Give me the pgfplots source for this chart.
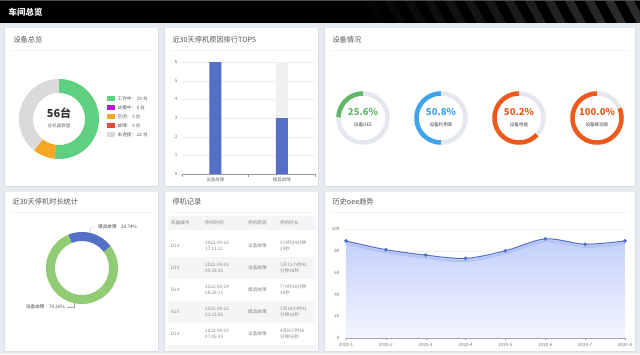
\documentclass[border=0pt]{standalone}
\usepackage{fontspec}
\setmainfont{Noto Sans CJK SC}
\usepackage{pgfplots}
\pgfplotsset{compat=1.18}
\definecolor{bg}{HTML}{E6EAF1}
\definecolor{ttl}{HTML}{555555}
\definecolor{cgreen}{HTML}{5FD07F}
\definecolor{cpurple}{HTML}{B21FD2}
\definecolor{corange}{HTML}{F5A623}
\definecolor{cred}{HTML}{E8453C}
\definecolor{cgrey}{HTML}{DADADA}
\definecolor{cbar}{HTML}{5470C6}
\definecolor{cpgreen}{HTML}{91CC75}
\definecolor{gtrack}{HTML}{E4E8EE}
\definecolor{ggreen}{HTML}{62B86A}
\definecolor{gblue}{HTML}{3FA3EC}
\definecolor{gorange}{HTML}{EE5A1C}
\definecolor{cline}{HTML}{5470C6}
\definecolor{cshadow}{HTML}{AFC0F5}
\definecolor{ftop}{HTML}{C3CFFA}
\definecolor{fbot}{HTML}{F3F6FF}
\definecolor{tbl}{HTML}{F4F5F7}
\definecolor{txt}{HTML}{888888}
\newcommand\ttlfont{\fontsize{7.2}{8}\selectfont}
\newcommand\smallfont{\fontsize{4.6}{5.6}\selectfont}
\pgfplotsset{ring/.style={variable=\t,line width=#1}}
\begin{document}
\begin{tikzpicture}[x=1pt,y=1pt]
\useasboundingbox (0,0) rectangle (640,354);
\fill[bg] (0,0) rectangle (640,354);
% header
\fill[black] (0,331) rectangle (640,354);
\fill[black!70] (0,353.2) rectangle (640,354);
\foreach \i in {0,...,13}{
  \pgfmathsetmacro\op{0.02+0.012*\i}
  \fill[white,opacity=\op] (365+\i*20,353) -- ++(9,0) -- ++(12,-22) -- ++(-9,0) -- cycle;
}
\node[anchor=west,text=white,font=\fontsize{8.5}{9}\selectfont\bfseries] at (5,342) {车间总览};
% panels
\foreach \a/\b/\c/\d in {5/168/158/326, 165/168/318/326, 325/168/635/326, 5/3/158/162, 165/3/318/162, 325/3/635/162}{
  \fill[black,opacity=0.05] (\a-0.6,\b-0.8) rectangle (\c+0.6,\d+0.2);
  \fill[white] (\a,\b) rectangle (\c,\d);
}
% separators
\foreach \a/\c/\y in {5/158/304, 165/318/304, 325/635/304, 5/158/142, 165/318/142, 325/635/142}{
  \draw[black!5,line width=0.4pt] (\a+6,\y) -- (\c-6,\y);
}
% titles
\node[anchor=west,text=ttl,font=\ttlfont] at (10,314) {设备总览};
\node[anchor=west,text=ttl,font=\ttlfont] at (169,314) {近30天停机原因排行TOP5};
\node[anchor=west,text=ttl,font=\ttlfont] at (329,314) {设备情况};
\node[anchor=west,text=ttl,font=\ttlfont] at (9,152) {近30天停机时长统计};
\node[anchor=west,text=ttl,font=\ttlfont] at (169,152) {停机记录};
\node[anchor=west,text=ttl,font=\ttlfont] at (329,152) {历史oee趋势};

% ---------- canvas axis for donuts and gauges
\pgfmathsetmacro\aA{90-29/56*360}
\pgfmathsetmacro\aB{\aA-5/56*360}
\pgfmathsetmacro\gA{90+360*0.245}
\pgfmathsetmacro\gB{90+360*0.50}
\pgfmathsetmacro\gC{90+360*0.63}
\pgfmathsetmacro\gD{90+360*0.815}
\pgfmathsetmacro\bs{112-20.74/100*360}
\begin{axis}[at={(0pt,0pt)},anchor=south west,scale only axis,width=640pt,height=354pt,
  xmin=0,xmax=640,ymin=0,ymax=354,hide axis,clip=false,enlargelimits=false]
% donut 1: 29, 0, 5, 0, 22 of 56 ; centre (59,235), mid radius 33
\addplot[domain=\aA:90,samples=70,ring=14pt,color=cgreen] ({59+33*cos(\t)},{235+33*sin(\t)});
\addplot[domain=\aB:\aA,samples=20,ring=14pt,color=corange] ({59+33*cos(\t)},{235+33*sin(\t)});
\addplot[domain=-270:\aB,samples=60,ring=14pt,color=cgrey] ({59+33*cos(\t)},{235+33*sin(\t)});
% gauges: centres y=236, mid radius 24.5
\addplot[domain=0:360,samples=90,ring=4.5pt,color=gtrack] ({363+24.5*cos(\t)},{236+24.5*sin(\t)});
\addplot[domain=90:\gA,samples=40,ring=4.5pt,color=ggreen] ({363+24.5*cos(\t)},{236+24.5*sin(\t)});
\addplot[domain=0:360,samples=90,ring=4.5pt,color=gtrack] ({441+24.5*cos(\t)},{236+24.5*sin(\t)});
\addplot[domain=90:\gB,samples=60,ring=4.5pt,color=gblue] ({441+24.5*cos(\t)},{236+24.5*sin(\t)});
\addplot[domain=0:360,samples=90,ring=4.5pt,color=gtrack] ({519+24.5*cos(\t)},{236+24.5*sin(\t)});
\addplot[domain=90:\gC,samples=70,ring=4.5pt,color=gorange] ({519+24.5*cos(\t)},{236+24.5*sin(\t)});
\addplot[domain=0:360,samples=90,ring=4.5pt,color=gtrack] ({597+24.5*cos(\t)},{236+24.5*sin(\t)});
\addplot[domain=90:\gD,samples=80,ring=4.5pt,color=gorange] ({597+24.5*cos(\t)},{236+24.5*sin(\t)});
% donut 2: 79.26 / 20.74 ; centre (82,86) mid radius 31.5
\addplot[domain=-248:\bs,samples=90,ring=9pt,color=cpgreen] ({82+31.5*cos(\t)},{86+31.5*sin(\t)});
\addplot[domain=\bs:112,samples=30,ring=9pt,color=cbar] ({82+31.5*cos(\t)},{86+31.5*sin(\t)});
\end{axis}

% donut 1 text and legend
\node[font=\fontsize{11}{12}\selectfont\bfseries,text=black!80] at (59,241) {56台};
\node[font=\smallfont,text=black!55] at (59,228.5) {总机器数量};
\foreach \yy/\col/\lab in {255/cgreen/{工作中：\,29 台}, 246/cpurple/{试模中：\,0 台}, 237/corange/{空闲：\,5 台}, 228/cred/{故障：\,0 台}, 219/cgrey/{未连接：\,22 台}}{
  \fill[\col] (107,\yy-2.5) rectangle (115,\yy+2.5);
  \node[anchor=west,font=\smallfont,text=black!65,inner sep=0pt] at (117.5,\yy) {\lab};
}
% gauge texts
\foreach \cx/\val/\lab/\col in {363/25.6\%/设备OEE/ggreen, 441/50.8\%/设备利用率/gblue, 519/50.2\%/设备性能/gorange, 597/100.0\%/设备稼动率/gorange}{
  \node[font=\fontsize{9.5}{10}\selectfont\bfseries,text=\col] at (\cx,242.5) {\val};
  \node[font=\smallfont,text=black!75] at (\cx,229) {\lab};
}
% donut 2 labels
\draw[black!35,line width=0.3pt] (89.5,121) -- (91,127) -- (96,127);
\node[anchor=west,font=\smallfont,text=black!70,inner sep=0pt] at (98,127) {模具故障\quad 20.74\%};
\draw[black!35,line width=0.3pt] (74,52) -- (74,47) -- (67,47);
\node[anchor=east,font=\smallfont,text=black!70,inner sep=0pt] at (65,47) {设备故障\quad 79.26\%};

% ---------- bar chart
\begin{axis}[at={(182pt,180pt)},anchor=south west,scale only axis,width=133pt,height=112pt,
  xmin=0.5,xmax=2.5,ymin=0,ymax=6,ytick={0,...,6},xtick={1,2},
  xticklabels={设备故障,模具故障},
  axis lines*=left, y axis line style={draw=none}, x axis line style={black!40,line width=0.4pt},
  ymajorgrids, grid style={black!8,line width=0.3pt},
  major tick length=0pt,
  extra x ticks={0.5,1.5,2.5}, extra x tick labels={},
  extra x tick style={major tick length=2.5pt,tick style={black!40,line width=0.4pt},tick align=outside,grid=none},
  tick label style={font=\fontsize{4.5}{5}\selectfont,text=black!55},
  /pgf/number format/assume math mode=true,
  yticklabel style={xshift=-1pt}, xticklabel style={yshift=-0.5pt}]
\addplot[ybar,bar width=12pt,bar shift=0pt,fill=black!6,draw=none] coordinates {(1,6) (2,6)};
\addplot[ybar,bar width=12pt,bar shift=0pt,fill=cbar,draw=none] coordinates {(1,6) (2,3)};
\end{axis}

% ---------- table
\fill[tbl] (168,124) rectangle (316,138);
\fill[tbl] (168,75) rectangle (316,97);
\fill[tbl] (168,31) rectangle (316,53);
\fill[tbl] (168,4) rectangle (316,9);
\begin{scope}[every node/.style={anchor=west,font=\smallfont,text=txt,inner sep=0pt,align=left}]
\node at (171,131) {机器编号}; \node at (205,131) {停机时间}; \node at (248,131) {停机原因}; \node at (280,131) {停机时长};
\foreach \yy/\m/\da/\ti/\r/\du in {
  108/D19/2022-09-26/17:11:11/设备故障/{3小时24分钟\\29秒},
  86/D19/2022-09-25/05:28:35/设备故障/{1天11小时42\\分钟38秒},
  64/B14/2022-09-24/06:29:11/模具故障/{7小时36分钟\\30秒},
  42/A10/2022-09-22/21:23:56/模具故障/{1天16小时41\\分钟30秒},
  20/D19/2022-09-20/07:05:43/设备故障/{4天6小时39\\分钟55秒}}{
  \node at (171,\yy) {\m};
  \node at (205,\yy) {\da\\\ti};
  \node at (248,\yy) {\r};
  \node at (280,\yy) {\du};
}
\end{scope}

% ---------- line chart
\begin{axis}[at={(346pt,16pt)},anchor=south west,scale only axis,width=279pt,height=109pt,
  xmin=1,xmax=8,ymin=0,ymax=100,ytick={0,20,...,100},xtick={1,...,8},
  xticklabels={2020-1,2020-2,2020-3,2020-4,2020-5,2020-6,2020-7,2020-8},
  axis lines*=left, y axis line style={draw=none}, x axis line style={black!40,line width=0.4pt},
  ymajorgrids, grid style={black!6,line width=0.3pt},
  major tick length=2pt, ytick style={draw=none}, xtick style={black!40,line width=0.4pt}, tick align=outside,
  tick label style={font=\fontsize{4.5}{5}\selectfont,text=black!55},
  /pgf/number format/assume math mode=true,clip=false,
  yticklabel style={xshift=-1pt}]
\addplot[smooth,tension=0.5,draw=none,top color=ftop,bottom color=fbot] coordinates {(1,89) (2,81) (3,76) (4,73) (5,80) (6,91) (7,86) (8,89)} \closedcycle;
\addplot[smooth,tension=0.5,line width=2.2pt,color=cshadow,opacity=0.8,yshift=-2.6pt] coordinates {(1,89) (2,81) (3,76) (4,73) (5,80) (6,91) (7,86) (8,89)};
\addplot[smooth,tension=0.5,line width=1pt,color=cline,mark=*,mark size=1.3pt,mark options={fill=cline,draw=cline}] coordinates {(1,89) (2,81) (3,76) (4,73) (5,80) (6,91) (7,86) (8,89)};
\end{axis}
\end{tikzpicture}
\end{document}
